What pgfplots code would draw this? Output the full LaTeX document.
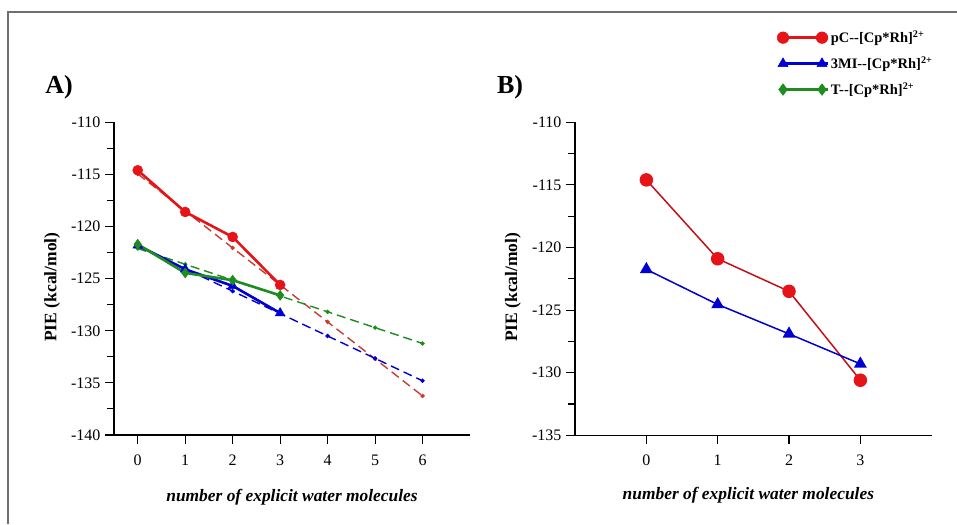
\documentclass[border=0pt]{standalone}
\usepackage{pgfplots}
\pgfplotsset{compat=1.18}
\usepackage{fontspec}
\setmainfont{Liberation Serif}
\definecolor{cred}{RGB}{228,20,24}
\definecolor{cdred}{RGB}{200,60,50}
\definecolor{cblue}{RGB}{0,0,210}
\definecolor{cgreen}{RGB}{30,140,30}
\definecolor{cframe}{RGB}{110,110,110}
\begin{document}
\begin{tikzpicture}
\path[use as bounding box] (0pt,0pt) rectangle (957pt,-524pt);
\draw[cframe,line width=1.6pt] (8pt,-524pt) -- (8pt,-12pt) -- (957pt,-12pt);
\node[font=\fontsize{26}{30}\selectfont\bfseries,anchor=center] at (59pt,-87pt) {A)};
\node[font=\fontsize{26}{30}\selectfont\bfseries,anchor=center] at (510pt,-87pt) {B)};
\pgfplotsset{
  myax/.style={
    scale only axis,
    axis lines=left,
    axis line style={-,line width=1.6pt},
    tick align=outside,
    major tick length=9pt,
    minor tick length=7pt,
    every tick/.style={black,line width=1.1pt},
    minor y tick num=1,
    tick label style={font=\fontsize{16}{18}\selectfont},
    xticklabel style={yshift=-7pt},
    yticklabel style={xshift=-1pt},
    /pgf/number format/assume math mode=true,
    clip=false,
    every axis y label/.style={at={(axis description cs:-0.174,0.473)},rotate=90,anchor=center,font=\fontsize{17.5}{20}\selectfont\bfseries},
    every axis x label/.style={at={(axis description cs:0.5,-0.198)},anchor=center,font=\fontsize{17.4}{20}\selectfont\bfseries\itshape},
    ylabel={PIE (kcal/mol)},
    xlabel={number of explicit water molecules},
  }
}
% Panel A
\begin{axis}[myax,
  at={(114pt,-435pt)}, anchor=south west,
  width=356pt, height=312.7pt,
  xmin=-0.5, xmax=7, ymin=-140, ymax=-110,
  xtick={0,1,2,3,4,5,6},
  ytick={-140,-135,-130,-125,-120,-115,-110},
  legend style={at={(rel axis cs:1.854,1.304)},anchor=north west,draw=none,fill=none,
    font=\fontsize{14.5}{16}\selectfont\bfseries,row sep=9.5pt,
    nodes={inner sep=1.5pt}},
  legend cell align=left,
  legend image code/.code={\draw[#1,mark size=5.8pt] plot coordinates {(0pt,0pt) (39pt,0pt)};\path (39pt,0pt) -- (45pt,0pt);},
]
% dashed fits
\addplot[forget plot,cdred,dash pattern=on 9pt off 5pt,line width=1.4pt,mark=*,mark size=1.4pt,mark options={solid}] coordinates {
(0,-114.95) (1,-118.5) (2,-122.05) (3,-125.6) (4,-129.15) (5,-132.7) (6,-136.25)};
\addplot[forget plot,cblue,dash pattern=on 9pt off 5pt,line width=1.4pt,mark=*,mark size=1.4pt,mark options={solid}] coordinates {
(0,-121.9) (1,-124.05) (2,-126.2) (3,-128.35) (4,-130.5) (5,-132.65) (6,-134.8)};
\addplot[forget plot,cgreen,dash pattern=on 9pt off 5pt,line width=1.4pt,mark=*,mark size=1.4pt,mark options={solid}] coordinates {
(0,-122.1) (1,-123.62) (2,-125.14) (3,-126.66) (4,-128.18) (5,-129.7) (6,-131.22)};
% solid series
\addplot[cred,line width=2.6pt,mark=*,mark size=5pt,mark options={solid,fill=cred,line width=0.5pt}] coordinates {
(0,-114.6) (1,-118.6) (2,-121.0) (3,-125.6)};
\addlegendentry{pC-{}-[Cp*Rh]\textsuperscript{2+}}
\addplot[cblue,line width=2.6pt,mark=triangle*,mark size=5.5pt,mark options={solid,fill=cblue,line width=0.5pt}] coordinates {
(0,-121.8) (1,-124.1) (2,-125.7) (3,-128.3)};
\addlegendentry{3MI-{}-[Cp*Rh]\textsuperscript{2+}}
\addplot[cgreen,line width=2.6pt,mark=diamond*,mark size=5pt,mark options={solid,fill=cgreen,line width=0.5pt}] coordinates {
(0,-121.7) (1,-124.45) (2,-125.15) (3,-126.6)};
\addlegendentry{T-{}-[Cp*Rh]\textsuperscript{2+}}
\end{axis}
% Panel B
\begin{axis}[myax,
  at={(575pt,-435.3pt)}, anchor=south west,
  width=356.7pt, height=313pt,
  xmin=-1, xmax=4, ymin=-135, ymax=-110,
  xtick={0,1,2,3},
  ytick={-135,-130,-125,-120,-115,-110},
  every axis x label/.style={at={(axis description cs:0.486,-0.19)},anchor=center,font=\fontsize{17.4}{20}\selectfont\bfseries\itshape},
]
\addplot[cred!85!black,line width=1.5pt,mark=*,mark size=6pt,mark options={solid,fill=cred,draw=cred}] coordinates {
(0,-114.6) (1,-120.9) (2,-123.5) (3,-130.6)};
\addplot[cblue,line width=1.5pt,mark=triangle*,mark size=6pt,mark options={solid,fill=cblue}] coordinates {
(0,-121.75) (1,-124.55) (2,-126.9) (3,-129.3)};
\end{axis}
\end{tikzpicture}
\end{document}
